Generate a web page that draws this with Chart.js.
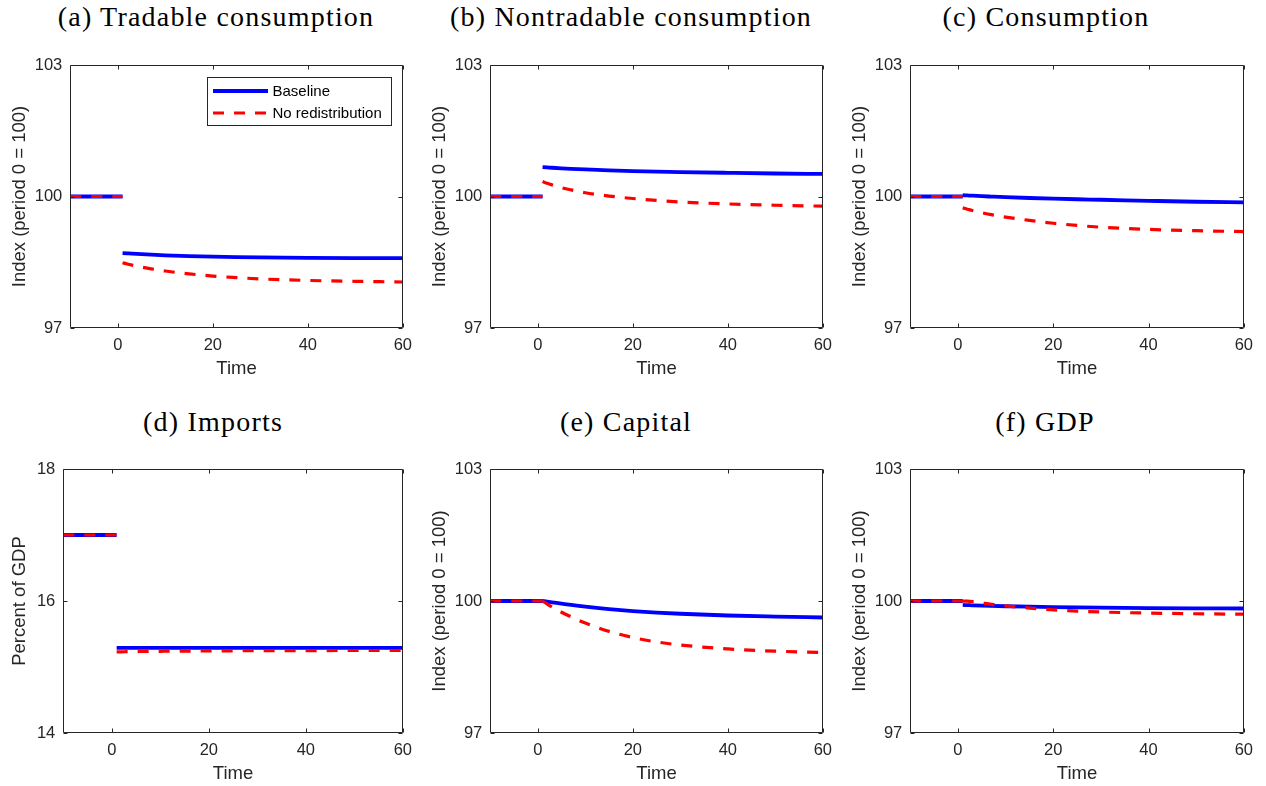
<!DOCTYPE html>
<html>
<head>
<meta charset="utf-8">
<script src="https://cdn.jsdelivr.net/npm/chart.js@4.4.0/dist/chart.umd.min.js"></script>
<style>
  html, body { margin: 0; padding: 0; background: #fff; width: 1266px; height: 786px; overflow: hidden; }
  canvas { position: absolute; }
  .ttl {
    position: absolute; white-space: nowrap; transform: translateX(-50%);
    font-family: "Liberation Serif", serif; font-size: 28px; line-height: 28px;
    letter-spacing: 1.2px; color: #000;
  }
</style>
</head>
<body>
<script>
const seriesNames = ['Baseline', 'No redistribution'];
const xTicks = [0, 20, 40, 60];
const indexTicks = [97, 100, 103];
const importTicks = [14, 16, 18];

const preTime = [-10, 1];
const postTime = [1, 2, 3, 5, 7, 10, 15, 20, 25, 30, 40, 50, 60];

const indexPre = [100, 100];
const importsPre = [17, 17];

// (a) Tradable consumption
const tradBase  = [98.71, 98.703, 98.696, 98.684, 98.673, 98.659, 98.641, 98.628, 98.618, 98.611, 98.601, 98.595, 98.592];
const tradNoRed = [98.49, 98.46, 98.435, 98.39, 98.35, 98.30, 98.235, 98.185, 98.15, 98.12, 98.085, 98.065, 98.05];
// (b) Nontradable consumption
const nontBase  = [100.67, 100.663, 100.656, 100.643, 100.632, 100.617, 100.597, 100.581, 100.568, 100.557, 100.540, 100.525, 100.515];
const nontNoRed = [100.34, 100.30, 100.265, 100.20, 100.15, 100.085, 100.01, 99.955, 99.91, 99.875, 99.83, 99.80, 99.78];
// (c) Consumption
const consBase  = [100.03, 100.024, 100.018, 100.007, 99.998, 99.985, 99.966, 99.950, 99.937, 99.926, 99.902, 99.880, 99.865];
const consNoRed = [99.74, 99.71, 99.68, 99.63, 99.585, 99.53, 99.455, 99.39, 99.34, 99.30, 99.25, 99.22, 99.20];
// (d) Imports
const impBase   = [15.29, 15.29, 15.29, 15.29, 15.29, 15.29, 15.29, 15.29, 15.29, 15.29, 15.29, 15.29, 15.29];
const impNoRed  = [15.23, 15.23, 15.232, 15.234, 15.236, 15.238, 15.241, 15.243, 15.245, 15.247, 15.249, 15.25, 15.25];
// (e) Capital
const capBase   = [100.00, 99.985, 99.97, 99.94, 99.91, 99.87, 99.815, 99.77, 99.735, 99.71, 99.67, 99.645, 99.625];
const capNoRed  = [100.00, 99.93, 99.865, 99.745, 99.64, 99.50, 99.31, 99.17, 99.07, 99.00, 98.91, 98.86, 98.83];
// (f) GDP
const gdpBase   = [99.91, 99.906, 99.902, 99.895, 99.889, 99.881, 99.870, 99.861, 99.854, 99.848, 99.840, 99.834, 99.830];
const gdpNoRed  = [100.00, 99.995, 99.985, 99.955, 99.925, 99.89, 99.84, 99.80, 99.77, 99.75, 99.725, 99.71, 99.70];

const INDEX_LABEL = 'Index (period 0 = 100)';
const panels = [
  { title: '(a) Tradable consumption',    titleX: 216, row: 0, col: 0, yLabel: INDEX_LABEL, yMin: 97, yMax: 103, yTicks: indexTicks, pre: indexPre, base: tradBase, noRed: tradNoRed, legend: true },
  { title: '(b) Nontradable consumption', titleX: 631, row: 0, col: 1, yLabel: INDEX_LABEL, yMin: 97, yMax: 103, yTicks: indexTicks, pre: indexPre, base: nontBase, noRed: nontNoRed },
  { title: '(c) Consumption',             titleX: 1046, row: 0, col: 2, yLabel: INDEX_LABEL, yMin: 97, yMax: 103, yTicks: indexTicks, pre: indexPre, base: consBase, noRed: consNoRed },
  { title: '(d) Imports',                 titleX: 213, row: 1, col: 0, yLabel: 'Percent of GDP', yMin: 14, yMax: 18, yTicks: importTicks, pre: importsPre, base: impBase, noRed: impNoRed, narrowY: true },
  { title: '(e) Capital',                 titleX: 626, row: 1, col: 1, yLabel: INDEX_LABEL, yMin: 97, yMax: 103, yTicks: indexTicks, pre: indexPre, base: capBase, noRed: capNoRed },
  { title: '(f) GDP',                     titleX: 1045, row: 1, col: 2, yLabel: INDEX_LABEL, yMin: 97, yMax: 103, yTicks: indexTicks, pre: indexPre, base: gdpBase, noRed: gdpNoRed }
];

// layout of the plot boxes on the page
const colLeft = [0, 420, 840];
const plotLeft = [70.3, 490.3, 910.3];
const plotRight = [404, 824, 1244.7];
const plotTop = [64.7, 469.3];
const plotBottom = [327.7, 733.3];
const titleTop = [3, 408];

const AXIS = '#262626';
const SANS = '"Liberation Sans", Arial, sans-serif';

// pre-shock segment, a break, then the transition path
function buildPoints(preVal, post) {
  const pts = preTime.map(t => ({ x: t, y: preVal }));
  pts.push({ x: postTime[0], y: null });
  postTime.forEach((t, i) => pts.push({ x: t, y: post[i] }));
  return pts;
}

// MATLAB style box with inward ticks
const framePlugin = {
  id: 'frame',
  afterDatasetsDraw(chart) {
    const { ctx, chartArea: a, scales: { x, y } } = chart;
    const L = Math.round(a.left) + 0.5, R = Math.round(a.right) - 0.5;
    const T = Math.round(a.top) + 0.5, B = Math.round(a.bottom) - 0.5;
    ctx.save();
    ctx.strokeStyle = AXIS;
    ctx.lineWidth = 1;
    ctx.beginPath();
    ctx.rect(L, T, R - L, B - T);
    x.ticks.forEach(t => {
      const px = Math.round(x.getPixelForValue(t.value)) + 0.5;
      ctx.moveTo(px, B); ctx.lineTo(px, B - 4);
      ctx.moveTo(px, T); ctx.lineTo(px, T + 4);
    });
    y.ticks.forEach(t => {
      const py = Math.round(y.getPixelForValue(t.value)) + 0.5;
      ctx.moveTo(L, py); ctx.lineTo(L + 4, py);
      ctx.moveTo(R, py); ctx.lineTo(R - 4, py);
    });
    ctx.stroke();
    ctx.restore();
  }
};

// boxed legend in the upper right corner of the plot
const boxLegend = {
  id: 'boxLegend',
  afterDraw(chart, args, opts) {
    if (!opts.show) return;
    const { ctx, chartArea: a } = chart;
    const w = 184, h = 48;
    const left = Math.round(a.right - 12.3 - w) + 0.5, top = Math.round(a.top + 12) + 0.5;
    ctx.save();
    ctx.fillStyle = '#fff';
    ctx.fillRect(left, top, w, h);
    ctx.strokeStyle = AXIS;
    ctx.lineWidth = 1;
    ctx.strokeRect(left, top, w, h);
    ctx.font = '15px ' + SANS;
    ctx.textBaseline = 'middle';
    chart.data.datasets.forEach((ds, i) => {
      const yy = top + 13.5 + i * 22;
      ctx.beginPath();
      ctx.strokeStyle = ds.borderColor;
      ctx.lineWidth = ds.borderWidth;
      ctx.setLineDash(ds.borderDash || []);
      ctx.moveTo(left + 5.5, yy);
      ctx.lineTo(left + 60.5, yy);
      ctx.stroke();
      ctx.setLineDash([]);
      ctx.fillStyle = '#000';
      ctx.fillText(ds.label, left + 65, yy + 0.5);
    });
    ctx.restore();
  }
};

panels.forEach(p => {
  const pl = p.narrowY ? 63.3 : plotLeft[p.col];
  const cl = colLeft[p.col];
  const top = plotTop[p.row] - 25;
  const width = Math.round(plotRight[p.col] + 16 - cl);
  const height = Math.round(plotBottom[p.row] + 62 - top);

  const t = document.createElement('div');
  t.className = 'ttl';
  t.textContent = p.title;
  t.style.left = p.titleX + 'px';
  t.style.top = titleTop[p.row] + 'px';
  document.body.appendChild(t);

  const cv = document.createElement('canvas');
  cv.width = width; cv.height = height;
  cv.style.left = cl + 'px';
  cv.style.top = top + 'px';
  cv.style.width = width + 'px';
  cv.style.height = height + 'px';
  document.body.appendChild(cv);

  new Chart(cv, {
    type: 'line',
    data: {
      datasets: [
        {
          label: seriesNames[0], data: buildPoints(p.pre[0], p.base),
          borderColor: '#0000ff', borderWidth: 3.8, order: 1
        },
        {
          label: seriesNames[1], data: buildPoints(p.pre[1], p.noRed),
          borderColor: '#ff0000', borderWidth: 3.2, borderDash: [11, 10], order: 0
        }
      ]
    },
    options: {
      responsive: false,
      animation: false,
      devicePixelRatio: 1,
      spanGaps: false,
      elements: {
        point: { radius: 0 },
        line: { cubicInterpolationMode: 'monotone', borderCapStyle: 'butt' }
      },
      layout: { padding: { top: 25, right: 16, left: 0, bottom: 0 } },
      plugins: {
        legend: { display: false },
        tooltip: { enabled: false },
        boxLegend: { show: !!p.legend }
      },
      scales: {
        x: {
          type: 'linear', min: -10, max: 60,
          afterBuildTicks: s => { s.ticks = xTicks.map(v => ({ value: v })); },
          afterFit: s => { s.height = 62; },
          grid: { display: false, drawTicks: false },
          border: { display: false },
          ticks: { padding: 8, color: AXIS, font: { family: SANS, size: 16.5 }, maxRotation: 0 },
          title: { display: true, text: 'Time', color: AXIS, font: { family: SANS, size: 18.5 }, padding: { top: 0, bottom: 9.5 } }
        },
        y: {
          type: 'linear', min: p.yMin, max: p.yMax,
          afterBuildTicks: s => { s.ticks = p.yTicks.map(v => ({ value: v })); },
          afterFit: s => { s.width = pl - cl; },
          grid: { display: false, drawTicks: false },
          border: { display: false },
          ticks: { padding: 8, color: AXIS, font: { family: SANS, size: 16.5 } },
          title: { display: true, text: p.yLabel, color: AXIS, font: { family: SANS, size: 18.5 }, padding: { top: 9, bottom: 0 } }
        }
      }
    },
    plugins: [framePlugin, boxLegend]
  });
});
</script>
</body>
</html>
